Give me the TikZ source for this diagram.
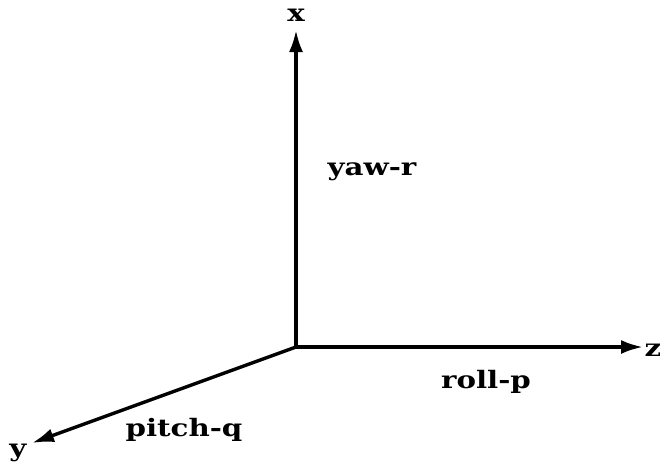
\documentclass[tikz,border=0pt]{standalone}
\usepackage{fontspec}
\newfontfamily\slabfont{DejaVu Serif}
\usetikzlibrary{arrows.meta}
\begin{document}
\begin{tikzpicture}[x=1pt,y=-1pt,
  axis/.style={line width=3.4pt,-{Latex[length=22pt,width=14pt]}},
  lbl/.style={font=\slabfont\bfseries\fontsize{24}{27}\selectfont,inner sep=0pt,xscale=1.22}]
\useasboundingbox (0,0) rectangle (660,463);
\coordinate (o) at (296,347);
\coordinate (xe) at (296,30);
\coordinate (ze) at (643,347);
\coordinate (ye) at (32,443);
\draw[axis] (o) -- (xe);
\draw[axis] (o) -- (ze);
\draw[axis] (o) -- (ye);
\node[lbl] (xl) at (296,15) {x};
\node[lbl] (zl) at (653,350) {z};
\node[lbl] (yl) at (18,453) {y};
\node[lbl] (yaw) at (372,172) {yaw-r};
\node[lbl] (roll) at (486,382) {roll-p};
\node[lbl] (pitch) at (184,430) {pitch-q};
\end{tikzpicture}
\end{document}
